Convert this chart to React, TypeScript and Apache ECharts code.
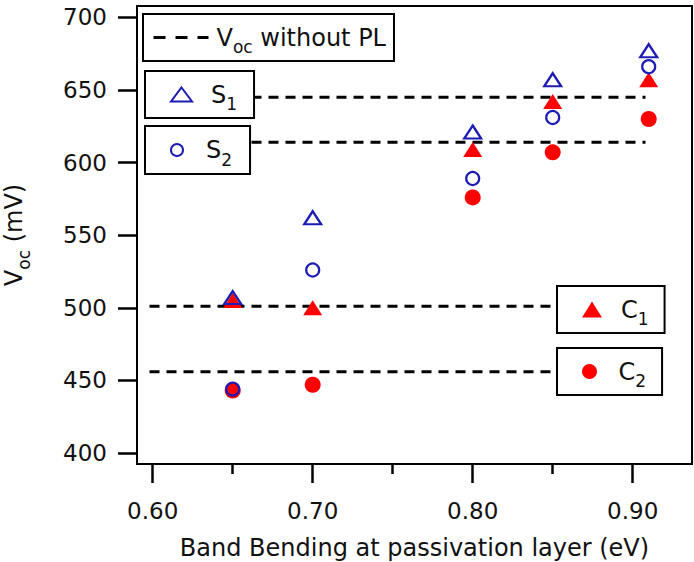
import React, { useEffect, useRef } from 'react';
import * as echarts from 'echarts';

// Band bending at passivation layer (eV)
const bandBending = [0.65, 0.7, 0.8, 0.85, 0.91];
// Voc (mV) per sample
const s1 = [507, 562, 621, 657, 677];
const s2 = [444, 526, 589, 631, 666];
const c1 = [505, 500, 609, 642, 657];
const c2 = [443, 447, 576, 607, 630];
// Voc without PL reference levels (mV) and their x span (eV)
const vocWithoutPL = [645, 614, 501, 456];
const refLineSpan = [0.598, 0.908];
// ticks
const yTicks = [400, 450, 500, 550, 600, 650, 700];
const xMajorTicks = [0.6, 0.7, 0.8, 0.9];
const xMinorTicks = [0.65, 0.75, 0.85];

const FONT = 'DejaVu Sans';
const BLUE = '#1c1cb4';
const RED = '#ff0000';
const INK = '#111111';

const zip = (xs: number[], ys: number[]) => xs.map((x, i) => [x, ys[i]]);

const legendNames: Record<string, string> = {
  'Voc without PL': 'V{sub|oc} without PL',
  S1: '{sp| }S{sub|1}',
  S2: '{sp| }S{sub|2}',
  C1: '{sp| }C{sub|1}',
  C2: '{sp| }C{sub|2}',
};

const richText = {
  sub: { fontSize: 17, verticalAlign: 'bottom', fontFamily: FONT, color: INK },
  sp: { width: 14, fontSize: 24, fontFamily: FONT },
};

const legendBase = {
  orient: 'horizontal',
  backgroundColor: '#ffffff',
  borderColor: '#000000',
  borderWidth: 2,
  borderRadius: 0,
  itemGap: 0,
  selectedMode: false,
  itemWidth: 20,
  itemHeight: 15,
  formatter: (name: string) => legendNames[name] ?? name,
  textStyle: { fontFamily: FONT, fontSize: 24, color: INK, lineHeight: 36, rich: richText },
  z: 10,
};

export default function App() {
  const ref = useRef<HTMLDivElement>(null);
  useEffect(() => {
    if (!ref.current) return;
    const chart = echarts.init(ref.current, null, { renderer: 'svg' });
    const option: any = {
      animation: false,
      backgroundColor: '#ffffff',
      grid: {
        left: 137,
        right: 2,
        top: 6,
        bottom: 98,
        outerBoundsMode: 'none',
        containLabel: false,
        show: true,
        borderColor: '#000',
        borderWidth: 2,
        backgroundColor: 'transparent',
      },
      xAxis: [
        {
          type: 'value',
          min: 0.59019,
          max: 0.93706,
          axisLine: { show: true, onZero: false, lineStyle: { color: '#000', width: 2 } },
          axisTick: { show: true, customValues: xMajorTicks, length: 19, lineStyle: { color: '#000', width: 2.5 } },
          axisLabel: {
            customValues: xMajorTicks,
            formatter: (v: number) => v.toFixed(2),
            margin: 35,
            fontSize: 23,
            fontFamily: FONT,
            color: INK,
          },
          splitLine: { show: false },
          name: 'Band Bending at passivation layer (eV)',
          nameLocation: 'middle',
          nameGap: 72,
          nameTextStyle: { fontSize: 24, fontFamily: FONT, color: INK },
        },
        {
          type: 'value',
          min: 0.59019,
          max: 0.93706,
          position: 'bottom',
          axisLine: { show: false },
          axisTick: { show: true, customValues: xMinorTicks, length: 10, lineStyle: { color: '#000', width: 2.5 } },
          axisLabel: { show: false },
          splitLine: { show: false },
        },
      ],
      yAxis: {
        type: 'value',
        min: 392.4,
        max: 707.8,
        axisLine: { show: true, onZero: false, lineStyle: { color: '#000', width: 2 } },
        axisTick: { show: true, customValues: yTicks, length: 19, lineStyle: { color: '#000', width: 2.5 } },
        axisLabel: { customValues: yTicks, margin: 30, fontSize: 23, fontFamily: FONT, color: INK },
        splitLine: { show: false },
        name: 'V{sub|oc} (mV)',
        nameLocation: 'middle',
        nameRotate: 90,
        nameGap: 105,
        nameTextStyle: { fontSize: 24, fontFamily: FONT, color: INK, lineHeight: 36, rich: richText },
      },
      legend: [
        {
          ...legendBase,
          data: ['Voc without PL'],
          left: 143,
          top: 14,
          itemWidth: 55,
          padding: [5.5, 8, 5.5, 9],
          lineStyle: { type: [12, 10], width: 3, color: '#000' },
          itemStyle: { opacity: 0 },
          textStyle: { ...legendBase.textStyle, padding: [0, 0, 0, 3] },
        },
        {
          ...legendBase,
          data: ['S1'],
          left: 145,
          top: 71,
          padding: [5.5, 17, 5.5, 25],
          itemHeight: 14,
          itemWidth: 21,
          itemStyle: { color: 'transparent', borderColor: BLUE, borderWidth: 2 },
        },
        {
          ...legendBase,
          data: ['S2'],
          left: 145,
          top: 126,
          itemWidth: 20,
          itemHeight: 12,
          padding: [6, 18, 6, 25],
          itemStyle: { color: 'transparent', borderColor: BLUE, borderWidth: 2 },
        },
        {
          ...legendBase,
          data: ['C1'],
          left: 557,
          top: 286,
          padding: [5.5, 16, 5.5, 25],
          itemHeight: 16,
          itemStyle: { color: RED, borderWidth: 0 },
        },
        {
          ...legendBase,
          data: ['C2'],
          left: 557,
          top: 348,
          padding: [5.5, 16, 5.5, 25],
          itemStyle: { color: RED, borderWidth: 0 },
        },
      ],
      series: [
        ...vocWithoutPL.map((v) => ({
          type: 'line',
          name: 'Voc without PL',
          data: refLineSpan.map((x) => [x, v]),
          symbol: 'none',
          silent: true,
          z: 1,
          lineStyle: { type: [10, 7], width: 3, color: '#000' },
          itemStyle: { color: '#000' },
        })),
        {
          type: 'scatter',
          name: 'C1',
          data: zip(bandBending, c1),
          symbol: 'triangle',
          symbolSize: [19, 15],
          itemStyle: { color: RED, opacity: 1 },
          z: 2,
        },
        {
          type: 'scatter',
          name: 'C2',
          data: zip(bandBending, c2),
          symbol: 'circle',
          symbolSize: 16,
          itemStyle: { color: RED, opacity: 1 },
          z: 2,
        },
        {
          type: 'scatter',
          name: 'S1',
          data: zip(bandBending, s1),
          symbol: 'triangle',
          symbolSize: [17, 13],
          itemStyle: { color: 'transparent', borderColor: BLUE, borderWidth: 2.2, opacity: 1 },
          z: 3,
        },
        {
          type: 'scatter',
          name: 'S2',
          data: zip(bandBending, s2),
          symbol: 'circle',
          symbolSize: 13,
          itemStyle: { color: 'transparent', borderColor: BLUE, borderWidth: 2.2, opacity: 1 },
          z: 3,
        },
      ],
    };
    chart.setOption(option);
    return () => chart.dispose();
  }, []);
  return <div ref={ref} style={{ width: 694, height: 562, position: 'absolute', left: 0, top: 0 }} />;
}
